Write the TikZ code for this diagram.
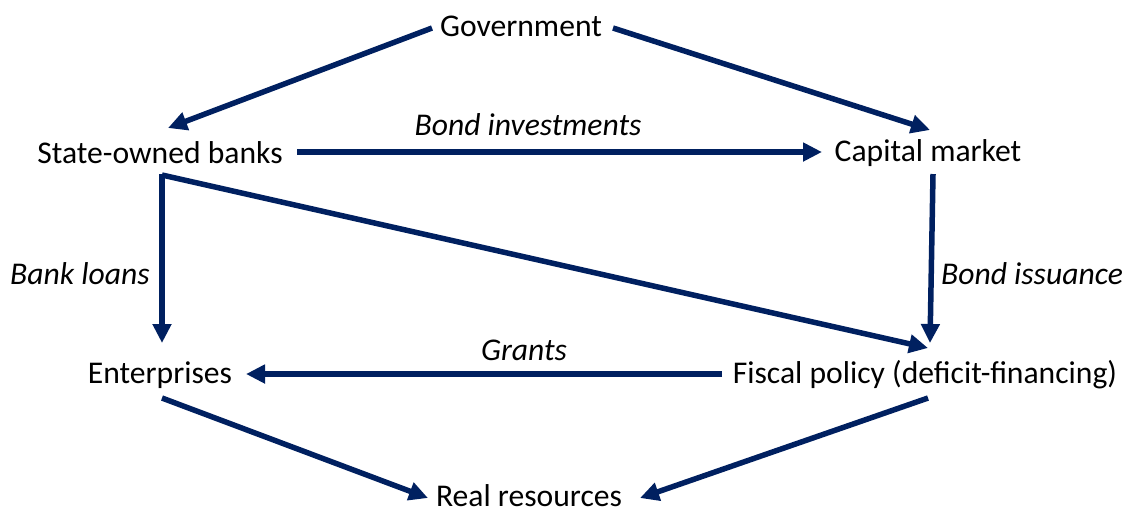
\documentclass[tikz,border=0pt]{standalone}
\usepackage{fontspec}
\setmainfont{Carlito}
\usetikzlibrary{arrows.meta}
\definecolor{navy}{HTML}{002060}
\begin{document}
\begin{tikzpicture}[x=0.02cm,y=-0.02cm,
  lbl/.style={inner sep=0pt,font=\fontsize{18pt}{22pt}\selectfont,text=black},
  ilbl/.style={lbl,font=\fontsize{18pt}{22pt}\selectfont\itshape},
  flow/.style={draw=navy,line width=0.11cm,-{Triangle[length=0.38cm,width=0.36cm]},fill=navy}]
\useasboundingbox (0,0) rectangle (1124,512);
\node[lbl] (gov) at (521,26) {Government};
\node[lbl] (sob) at (160,153) {State-owned banks};
\node[lbl] (cap) at (928,153) {Capital market};
\node[lbl] (ent) at (160,375) {Enterprises};
\node[lbl] (fis) at (925,375) {Fiscal policy (deficit-financing)};
\node[lbl] (real) at (529,496) {Real resources};
\node[ilbl] (lbi) at (528,125) {Bond investments};
\node[ilbl] (lbl) at (80,274) {Bank loans};
\node[ilbl] (lis) at (1032,274) {Bond issuance};
\node[ilbl] (lgr) at (524,350) {Grants};
\draw[flow] ([shift={(-89,2)}]gov.center) -- ([shift={(8,-25)}]sob.center);
\draw[flow] ([shift={(92,2)}]gov.center) -- ([shift={(2,-23)}]cap.center);
\draw[flow] ([shift={(137,-1)}]sob.center) -- ([shift={(-106,-1)}]cap.center);
\draw[flow] ([shift={(2,21)}]sob.center) -- ([shift={(2,-32)}]ent.center);
\draw[flow] ([shift={(2,22)}]sob.center) -- ([shift={(3,-27)}]fis.center);
\draw[flow] ([shift={(5,21)}]cap.center) -- ([shift={(5,-32)}]fis.center);
\draw[flow] ([shift={(-203,-1)}]fis.center) -- ([shift={(86,-1)}]ent.center);
\draw[flow] ([shift={(2,23)}]ent.center) -- ([shift={(-101,2)}]real.center);
\draw[flow] ([shift={(3,23)}]fis.center) -- ([shift={(111,2)}]real.center);
\end{tikzpicture}
\end{document}
